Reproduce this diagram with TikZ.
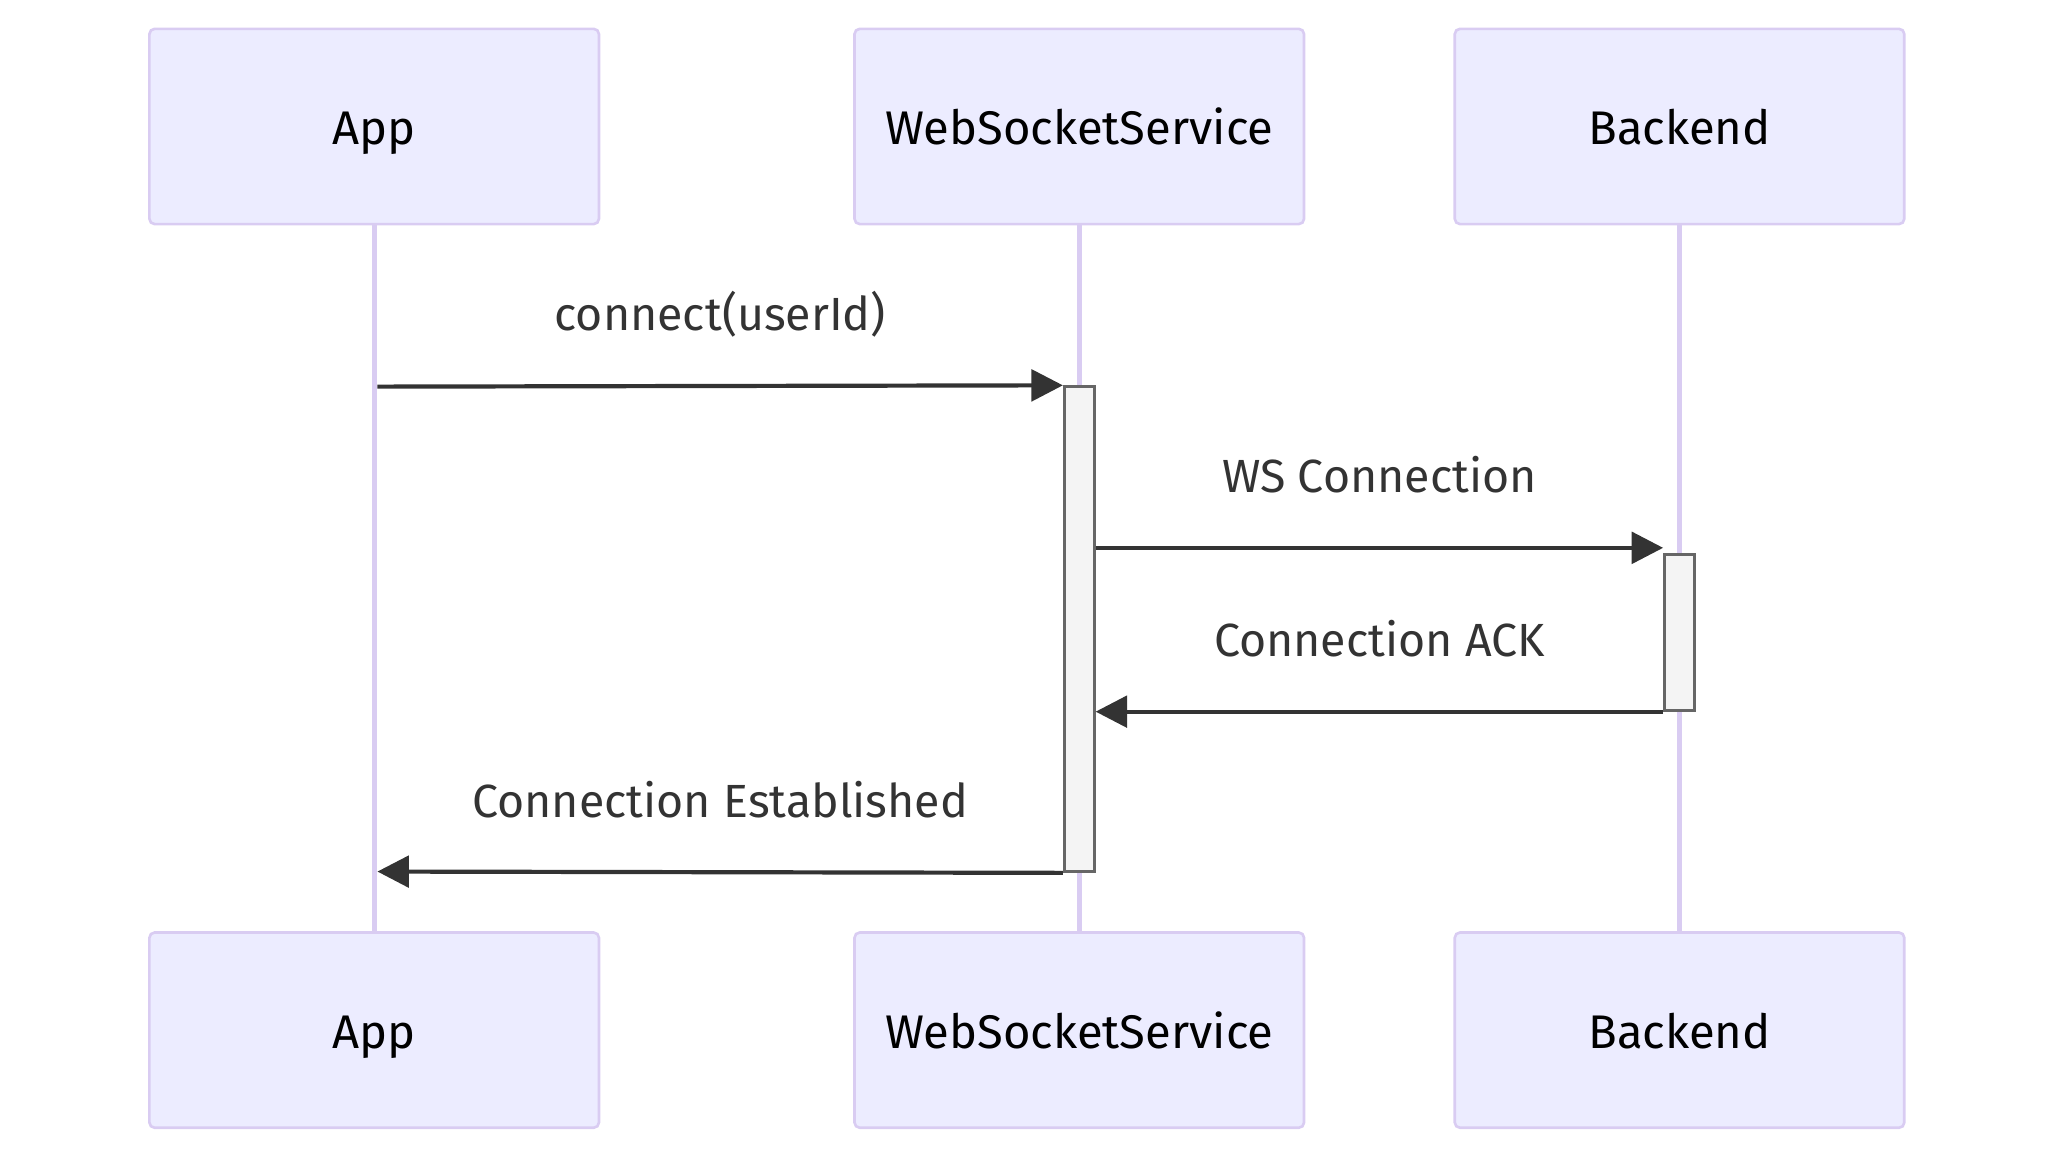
\documentclass[tikz,border=0pt]{standalone}
\usepackage{fontspec}
\setmainfont{Fira Sans}
\usepackage{tikz}
\usetikzlibrary{positioning}
\usetikzlibrary{arrows.meta}
\definecolor{actfill}{HTML}{ECECFF}
\definecolor{actline}{HTML}{D9CCF2}
\definecolor{msgline}{HTML}{333333}
\definecolor{barfill}{HTML}{F4F4F4}
\definecolor{barline}{HTML}{666666}
\tikzset{
    actor/.style = {rectangle, rounded corners=4pt, draw=actline, line width=2pt, fill=actfill, minimum width=343pt, minimum height=149pt, text=black, font=\fontsize{36}{40}\selectfont, text height=30pt, text depth=2pt},
    life/.style = {draw=actline, line width=3.6pt},
    bar/.style = {rectangle, draw=barline, fill=barfill, line width=2pt, minimum width=23pt, inner sep=0pt},
    msg/.style = {draw=msgline, line width=3.2pt, -{Triangle[length=24pt,width=24pt]}},
    msgtext/.style = {text=msgline, font=\fontsize{35.5}{40}\selectfont, anchor=base, yshift=42pt},
}
\begin{document}
\begin{tikzpicture}[x=1pt,y=1pt]
\useasboundingbox (0,0) rectangle (1568,-886);
\node[actor] at (285.5,-96.5) (appt) {App};
\node[actor] at (823.5,-96.5) (wsst) {WebSocketService};
\node[actor] at (1281.5,-96.5) (bet) {Backend};
\node[actor] at (285.5,-786) (appb) {App};
\node[actor] at (823.5,-786) (wssb) {WebSocketService};
\node[actor] at (1281.5,-786) (beb) {Backend};
%
\draw[life] (appt) -- (appb);
\draw[life] (wsst) -- (wssb);
\draw[life] (bet) -- (beb);
%
\node[bar, minimum height=370pt] at (823.5,-480) (wssbar) {};
\node[bar, minimum height=119pt] at (1281.5,-482.5) (bebar) {};
\coordinate (a1) at (288,-295);
\coordinate (a4) at (288,-665);
%
\draw[msg] (a1) -- (wssbar.north west) node[msgtext, midway] {connect(userId)};
\draw[msg] (wssbar.east |- 0,-418) -- (bebar.west |- 0,-418) node[msgtext, midway] {WS Connection};
\draw[msg] (bebar.south west) -- (wssbar.east |- bebar.south) node[msgtext, midway] {Connection ACK};
\draw[msg] (wssbar.south west) -- (a4) node[msgtext, midway] {Connection Established};
\end{tikzpicture}
\end{document}
